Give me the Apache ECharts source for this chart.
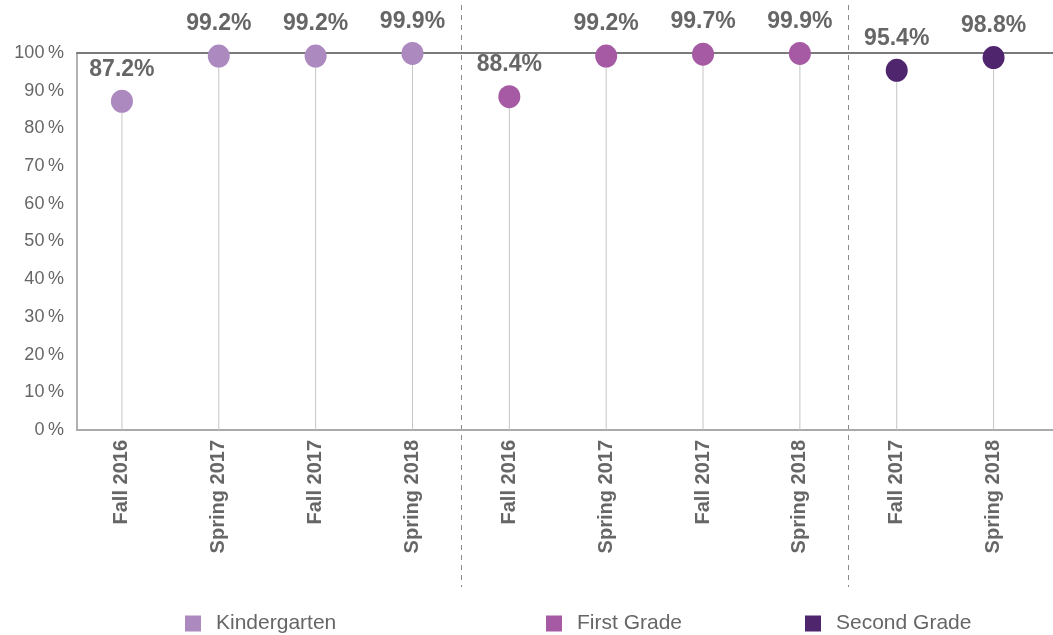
<!DOCTYPE html>
<html>
<head>
<meta charset="utf-8">
<script src="https://cdn.jsdelivr.net/npm/echarts@6/dist/echarts.min.js"></script>
<style>
  html, body { margin: 0; padding: 0; background: #fff; }
  #chart { width: 1053px; height: 635px; }
</style>
</head>
<body>
<div id="chart"></div>
<script>
const periods = ['Fall 2016', 'Spring 2017', 'Fall 2017', 'Spring 2018',
  'Fall 2016', 'Spring 2017', 'Fall 2017', 'Spring 2018',
  'Fall 2017', 'Spring 2018']
const kindergarten = [87.2, 99.2, 99.2, 99.9]
const firstGrade = [88.4, 99.2, 99.7, 99.9]
const secondGrade = [95.4, 98.8]
const yTicks = [0, 100, 10] // min, max, step

const colors = { k: '#ac89bf', first: '#a55aa3', second: '#4f256e' }
const font = 'Liberation Sans, Arial, sans-serif'

// pad each grade to the full category list
const allValues = kindergarten.concat(firstGrade, secondGrade)
function padded(values, offset) {
  return periods.map((_, i) => (i >= offset && i < offset + values.length) ? values[i - offset] : '-')
}

function dotSeries(name, values, offset, color) {
  return {
    name,
    type: 'scatter',
    xAxisIndex: 2,
    yAxisIndex: 1,
    data: padded(values, offset),
    symbolSize: [22, 23],
    itemStyle: { color, opacity: 1 },
    z: 5,
    label: {
      show: true,
      position: 'top',
      distance: 9,
      formatter: (p) => p.value.toFixed(1) + '%',
      fontSize: 23,
      fontWeight: 'bold',
      color: '#666',
      fontFamily: font,
    },
  }
}

function legendFor(name, left) {
  return {
    data: [name],
    left,
    top: 608,
    icon: 'rect',
    itemWidth: 16,
    itemHeight: 16,
    selectedMode: false,
    textStyle: { fontSize: 21, color: '#666', fontFamily: font, padding: [0, 0, 0, 10] },
  }
}

const chart = echarts.init(document.getElementById('chart'))

chart.setOption({
  animation: false,
  textStyle: { fontFamily: font },
  legend: [
    legendFor('Kindergarten', 180),
    legendFor('First Grade', 541),
    legendFor('Second Grade', 800),
  ],
  grid: [
    { left: 77, right: 0, top: 53, bottom: 205 },
    { left: 73.5, right: 11, top: 53, bottom: 205 },
  ],
  xAxis: [
    {
      gridIndex: 0, type: 'value', position: 'top', min: 0, max: 1,
      axisLine: { show: true, onZero: false, lineStyle: { color: '#7a7a7a', width: 2 } },
      axisTick: { show: false }, axisLabel: { show: false }, splitLine: { show: false },
    },
    {
      gridIndex: 0, type: 'value', position: 'bottom', min: 0, max: 1,
      axisLine: { show: true, onZero: false, lineStyle: { color: '#aaa', width: 2 } },
      axisTick: { show: false }, axisLabel: { show: false }, splitLine: { show: false },
    },
    {
      gridIndex: 1, type: 'category', data: periods,
      axisLine: { show: false }, axisTick: { show: false },
      axisLabel: {
        rotate: 90, margin: 10, interval: 0,
        fontSize: 20, fontWeight: 'bold', color: '#666', fontFamily: font,
      },
    },
  ],
  yAxis: [
    {
      gridIndex: 0, type: 'value', min: yTicks[0], max: yTicks[1], interval: yTicks[2],
      axisLine: { show: true, lineStyle: { color: '#999', width: 1.5 } },
      axisTick: { show: false },
      splitLine: { show: false },
      axisLabel: {
        margin: 13, fontSize: 18, color: '#666', fontFamily: font,
        formatter: '{value}\u2009%',
      },
    },
    { gridIndex: 1, type: 'value', min: yTicks[0], max: yTicks[1], show: false },
  ],
  series: [
    {
      name: 'stem',
      type: 'bar',
      xAxisIndex: 2,
      yAxisIndex: 1,
      data: allValues,
      barWidth: 1,
      silent: true,
      itemStyle: { color: '#c4c4c4' },
      z: 1,
    },
    dotSeries('Kindergarten', kindergarten, 0, colors.k),
    dotSeries('First Grade', firstGrade, kindergarten.length, colors.first),
    dotSeries('Second Grade', secondGrade, kindergarten.length + firstGrade.length, colors.second),
  ],
})

// dashed separators between grade groups
const groupEnds = [kindergarten.length, kindergarten.length + firstGrade.length]
const separators = groupEnds.map((idx) => {
  const a = chart.convertToPixel({ xAxisIndex: 2 }, idx - 1)
  const b = chart.convertToPixel({ xAxisIndex: 2 }, idx)
  const x = Math.round((a + b) / 2) + 0.5
  return {
    type: 'line',
    silent: true,
    shape: { x1: x, y1: 5, x2: x, y2: 587 },
    style: { stroke: '#8a8a8a', lineWidth: 1, lineDash: [5, 5] },
    z: 0,
  }
})
chart.setOption({ graphic: separators })
</script>
</body>
</html>
